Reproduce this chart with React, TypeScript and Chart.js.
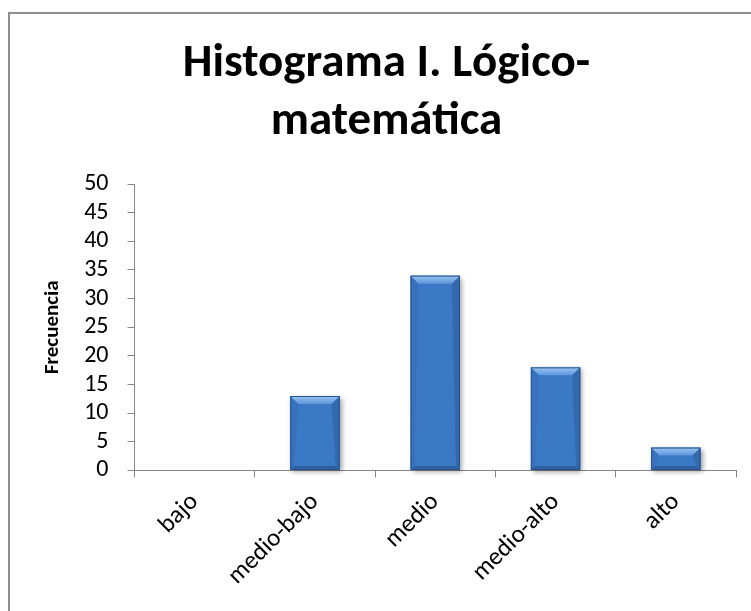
import React, { useEffect, useRef } from "react";
import { Chart, registerables } from "chart.js";

Chart.register(...registerables);

const categories = ["bajo", "medio-bajo", "medio", "medio-alto", "alto"];
const frequencies = [0, 13, 34, 18, 4];
const titleLines = ["Histograma I. Lógico-", "matemática"];
const yAxisTitle = "Frecuencia";
const yMin = 0;
const yMax = 50;
const yStep = 5;

const FONT = '"Carlito", "Lato", sans-serif';

function poly(ctx: CanvasRenderingContext2D, pts: number[][], fill: any) {
  ctx.beginPath();
  ctx.moveTo(pts[0][0], pts[0][1]);
  for (let i = 1; i < pts.length; i++) ctx.lineTo(pts[i][0], pts[i][1]);
  ctx.closePath();
  ctx.fillStyle = fill;
  ctx.fill();
}

const bevelPlugin = {
  id: "bevel",
  beforeDatasetsDraw(chart: any) {
    const ctx = chart.ctx as CanvasRenderingContext2D;
    const meta = chart.getDatasetMeta(0);
    ctx.save();
    meta.data.forEach((el: any) => {
      const { x, y, base, width } = el.getProps(["x", "y", "base", "width"], true);
      const h = base - y;
      if (h <= 0.5) return;
      ctx.shadowColor = "rgba(0,0,0,0.4)";
      ctx.shadowBlur = 5;
      ctx.shadowOffsetX = 2;
      ctx.shadowOffsetY = 2;
      ctx.fillStyle = "#3b79c5";
      ctx.fillRect(x - width / 2, y, width, h);
    });
    ctx.restore();
  },
  afterDatasetsDraw(chart: any) {
    const ctx = chart.ctx as CanvasRenderingContext2D;
    const meta = chart.getDatasetMeta(0);
    ctx.save();
    meta.data.forEach((el: any) => {
      const { x, y, base, width } = el.getProps(["x", "y", "base", "width"], true);
      const h = base - y;
      if (h <= 0.5) return;
      const x0 = x - width / 2;
      const x1 = x + width / 2;
      const y0 = y;
      const y1 = base;
      const b = Math.min(8, h / 2, width / 4);
      const s = Math.min(4, h / 2);
      const g = ctx.createLinearGradient(0, y0, 0, y0 + b);
      g.addColorStop(0, "#9cc6f2");
      g.addColorStop(1, "#5b95db");
      poly(ctx, [[x0, y0], [x1, y0], [x1 - b, y0 + b], [x0 + b, y0 + b]], g);
      poly(ctx, [[x0, y0], [x0 + b, y0 + b], [x0 + s, y1 - s], [x0, y1]], "rgba(25,60,120,0.10)");
      poly(ctx, [[x1, y0], [x1, y1], [x1 - s, y1 - s], [x1 - b, y0 + b]], "rgba(20,50,100,0.22)");
      poly(ctx, [[x0, y1], [x0 + s, y1 - s], [x1 - s, y1 - s], [x1, y1]], "rgba(15,40,90,0.30)");
      ctx.strokeStyle = "#24538c";
      ctx.lineWidth = 1;
      ctx.strokeRect(x0 + 0.5, y0 + 0.5, width - 1, h - 1);
    });
    ctx.restore();
  },
};

export default function App() {
  const ref = useRef<HTMLCanvasElement>(null);
  useEffect(() => {
    document.body.style.margin = "0";
    const chart = new Chart(ref.current as HTMLCanvasElement, {
      type: "bar",
      data: {
        labels: categories,
        datasets: [
          {
            data: frequencies,
            backgroundColor: "#3b79c5",
            borderWidth: 0,
            barPercentage: 0.41,
            categoryPercentage: 1,
          },
        ],
      },
      options: {
        animation: false,
        responsive: false,
        maintainAspectRatio: false,
        layout: { padding: { left: 37, right: 15, top: 0, bottom: 10 } },
        plugins: {
          legend: { display: false },
          tooltip: { enabled: false },
          title: {
            display: true,
            text: titleLines,
            color: "#000",
            font: { family: FONT, size: 47, weight: "bold", lineHeight: 58 / 47 },
            padding: { top: 35, bottom: 33 },
          },
        },
        scales: {
          x: {
            grid: {
              display: true,
              drawOnChartArea: false,
              drawTicks: true,
              tickLength: 7,
              color: "#868686",
              offset: true,
            },
            border: { display: true, color: "#868686", width: 1 },
            ticks: {
              color: "#000",
              font: { family: FONT, size: 25 },
              minRotation: 45,
              maxRotation: 45,
              padding: 10,
              autoSkip: false,
            },
          },
          y: {
            min: yMin,
            max: yMax,
            ticks: {
              stepSize: yStep,
              color: "#000",
              font: { family: FONT, size: 24, lineHeight: 1 },
              padding: 19,
              autoSkip: false,
            },
            grid: { drawOnChartArea: false, tickLength: 7, color: "#868686" },
            border: { color: "#868686" },
            title: {
              display: true,
              text: yAxisTitle,
              color: "#000",
              font: { family: FONT, size: 21, weight: "bold", lineHeight: 1.2 },
              padding: { top: 3, bottom: 0 },
            },
          },
        },
      },
      plugins: [bevelPlugin],
    } as any);
    return () => chart.destroy();
  }, []);
  return (
    <div style={{ position: "relative", width: 751, height: 611, overflow: "hidden" }}>
      <div
        style={{
          position: "absolute",
          left: 8,
          top: 12,
          width: 800,
          height: 700,
          border: "2px solid #8e8e8e",
          boxSizing: "border-box",
          background: "#fff",
        }}
      />
      <canvas
        ref={ref}
        width={751}
        height={611}
        style={{ position: "absolute", left: 0, top: 0, display: "block" }}
      />
    </div>
  );
}
